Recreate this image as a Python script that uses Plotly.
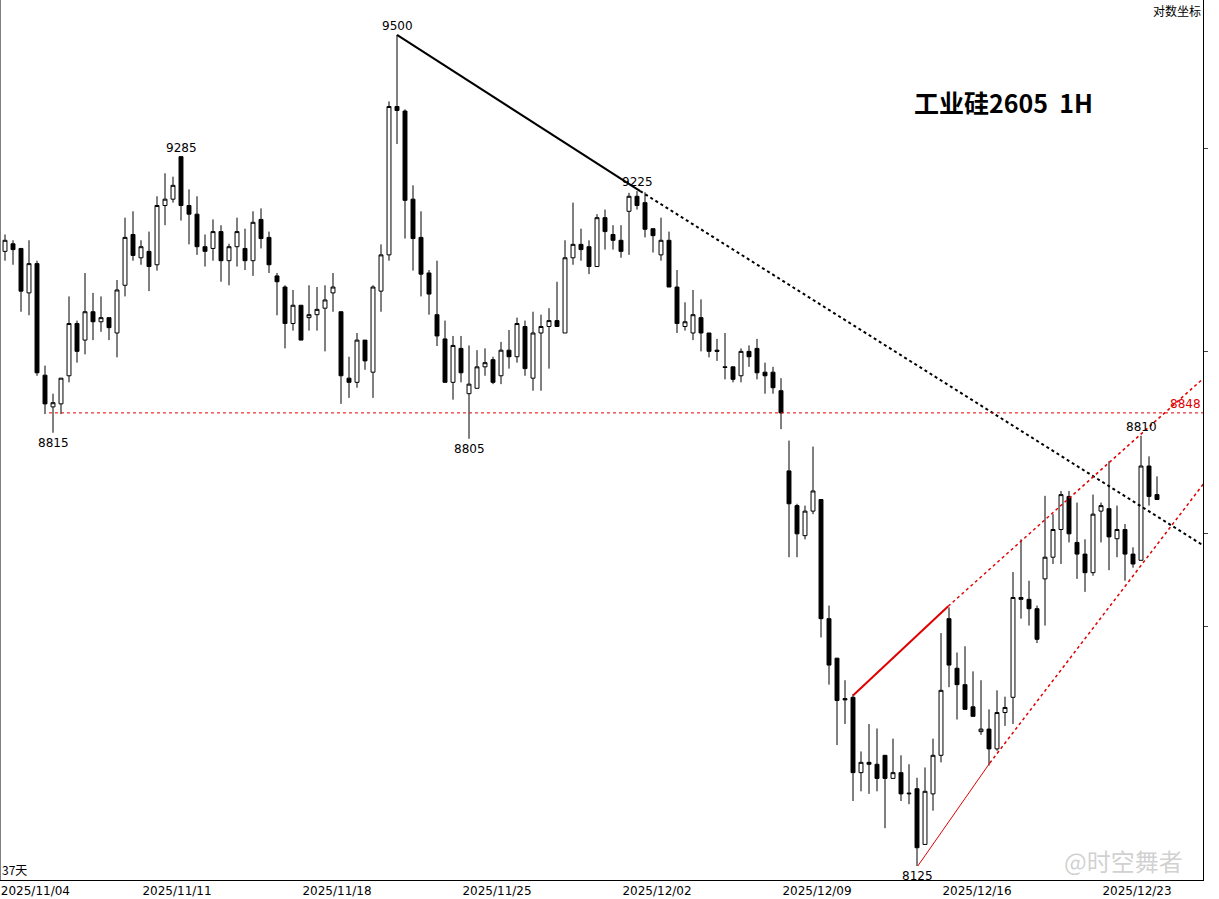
import math
import plotly.graph_objects as go

# OHLC per hourly bar (index 0..144)
opens = [9121,9134,9126,9050,9100,8911,8858,8863,8910,8998,8970,9018,9001,9008,8982,9063,9150,9110,9121,9098,
         9200,9211,9285,9200,9185,9129,9126,9155,9105,9129,9126,9105,9176,9145,9079,9060,8998,9029,9008,9013,
         9024,9050,9018,8906,8899,8970,8916,9053,9115,9373,9365,9211,9145,9084,9013,8972,8899,8956,8880,8889,
         8925,8937,8910,8953,8942,8993,8906,8982,8993,9003,8982,9110,9133,9129,9095,9179,9150,9140,9190,9216,
         9205,9160,9115,9140,9060,8993,8982,9008,8982,8953,8925,8925,8910,8951,8956,8916,8916,8885,8752,8695,
         8646,8686,8705,8512,8449,8385,8387,8269,8285,8282,8296,8260,8269,8236,8244,8158,8236,8296,8512,8433,
         8407,8372,8333,8337,8306,8363,8387,8546,8543,8528,8576,8611,8656,8710,8635,8616,8586,8686,8690,8641,
         8656,8616,8606,8760,8713]
highs = [9150,9140,9126,9140,9105,8927,8880,8906,9044,9003,9084,9050,9044,9008,9072,9179,9190,9140,9155,9216,
         9256,9250,9285,9228,9216,9150,9176,9166,9134,9179,9160,9190,9195,9155,9084,9063,9055,9029,9063,9060,
         9063,9084,9018,8942,8982,8970,9063,9133,9382,9500,9368,9235,9190,9089,9105,9003,8977,8977,8961,8953,
         8956,8942,8967,8987,9008,9003,9018,9013,9024,9069,9140,9205,9160,9140,9185,9193,9166,9166,9222,9225,
         9223,9160,9179,9155,9089,9034,9055,9039,8982,8972,8982,8925,8956,8961,8972,8932,8925,8906,8802,8698,
         8695,8792,8705,8533,8449,8414,8392,8302,8345,8338,8296,8322,8296,8282,8261,8277,8322,8489,8530,8458,
         8468,8428,8414,8368,8398,8388,8587,8640,8573,8533,8711,8681,8719,8719,8700,8640,8713,8700,8768,8695,
         8665,8627,8810,8776,8743]
lows = [9105,9098,9018,9012,8910,8846,8815,8846,8899,8932,8946,8970,8984,8970,8941,9044,9105,9098,9053,9088,
        9166,9205,9174,9133,9115,9095,9105,9069,9063,9095,9089,9079,9126,9084,9012,8956,8986,8970,8986,8986,
        8951,9018,8863,8873,8890,8920,8873,9018,9105,9307,9143,9088,9044,9013,8960,8899,8870,8899,8805,8889,
        8910,8896,8896,8922,8932,8910,8885,8885,8922,8993,8982,9098,9105,9082,9095,9124,9124,9110,9115,9193,
        9145,9119,9105,9060,8982,8986,8970,8951,8941,8935,8904,8899,8899,8925,8904,8880,8880,8821,8611,8611,
        8640,8681,8482,8407,8312,8345,8225,8240,8236,8240,8183,8260,8225,8220,8125,8158,8210,8285,8403,8352,
        8368,8357,8328,8280,8303,8342,8345,8512,8501,8473,8501,8600,8600,8635,8576,8555,8581,8635,8590,8611,
        8573,8594,8606,8695,8705]
closes = [9140,9124,9053,9100,8915,8863,8865,8906,8998,8951,9018,9001,9008,8991,9055,9145,9114,9129,9095,9200,
          9211,9235,9200,9185,9129,9121,9155,9105,9129,9155,9105,9171,9143,9098,9069,8998,9029,8970,9013,9022,
          9038,9060,8910,8899,8970,8935,9060,9115,9373,9366,9209,9143,9082,9048,8977,8899,8961,8915,8896,8925,
          8932,8899,8953,8942,8998,8922,8982,8993,9003,8993,9110,9133,9124,9095,9179,9155,9140,9121,9216,9200,
          9159,9148,9140,9060,8998,9001,9013,8982,8951,8951,8924,8904,8951,8942,8915,8910,8890,8848,8698,8649,
          8686,8719,8512,8438,8382,8383,8269,8285,8282,8260,8260,8269,8236,8237,8153,8240,8296,8398,8438,8407,
          8368,8357,8337,8306,8363,8371,8546,8543,8528,8479,8611,8656,8713,8649,8616,8586,8681,8695,8644,8656,
          8616,8600,8760,8710,8705]

date_labels = ["2025/11/04", "2025/11/11", "2025/11/18", "2025/11/25", "2025/12/02",
               "2025/12/09", "2025/12/16", "2025/12/23"]
date_pos = [3.8, 21.5, 41.5, 61.5, 81.5, 101.5, 121.5, 141.5]

# annotated extremes: (bar index, price, label, side)
marks = [(49, 9500, "9500", "top"), (22, 9285, "9285", "top"), (79, 9225, "9225", "top"),
         (6, 8815, "8815", "bottom"), (58, 8805, "8805", "bottom"), (114, 8125, "8125", "bottom"),
         (142, 8810, "8810", "top")]
support = 8848

# trend lines (bar index, price)
down_solid = [(49, 9500), (79.4, 9225)]
down_dot = [(79.4, 9225), (151.75, 8614)]
up_top_solid = [(106, 8390), (117.9, 8532)]
up_top_dot = [(117.9, 8532), (151.75, 8929)]
up_bot_solid = [(114.1, 8125), (123.1, 8284)]
up_bot_dot = [(123.1, 8284), (151.75, 8764)]

x = list(range(len(opens)))
fig = go.Figure(go.Candlestick(
    x=x, open=opens, high=highs, low=lows, close=closes,
    increasing=dict(line=dict(color="black", width=1), fillcolor="white"),
    decreasing=dict(line=dict(color="black", width=1), fillcolor="black"),
    whiskerwidth=0, showlegend=False, hoverinfo="skip"))

def seg(pts, color, dash, width):
    (x0, y0), (x1, y1) = pts
    fig.add_shape(type="line", x0=x0, y0=y0, x1=x1, y1=y1, xref="x", yref="y",
                  line=dict(color=color, dash=dash, width=width))

seg(down_solid, "black", "solid", 2)
seg(down_dot, "black", "dot", 2)
seg(up_top_solid, "#e00000", "solid", 2)
seg(up_top_dot, "#e00000", "dot", 1.5)
seg(up_bot_solid, "#e00000", "solid", 1)
seg(up_bot_dot, "#e00000", "dot", 1.5)
fig.add_shape(type="line", x0=5.5, x1=151.75, y0=support, y1=support, xref="x", yref="y",
              line=dict(color="#e00000", dash="dot", width=1))

for i, p, t, pos in marks:
    fig.add_annotation(x=i, y=math.log10(p), xref="x", yref="y", text=t, showarrow=False,
                       yanchor="bottom" if pos == "top" else "top", yshift=0 if pos == "top" else -1,
                       font=dict(size=12, color="black", family="DejaVu Sans"))
fig.add_annotation(x=1, xref="paper", y=math.log10(support), yref="y", text=str(support), showarrow=False,
                   xanchor="right", yanchor="bottom", font=dict(size=12, color="#e00000", family="DejaVu Sans"))

fig.add_annotation(x=0.834, y=0.884, xref="paper", yref="paper", text="<b>工业硅2605  1H</b>", showarrow=False,
                   xanchor="center", yanchor="middle",
                   font=dict(size=25, color="black", family="Noto Sans CJK SC"))
fig.add_annotation(x=1.0, y=1.0, xref="paper", yref="paper", text="对数坐标", showarrow=False,
                   xanchor="right", yanchor="top", font=dict(size=12, color="black", family="Noto Sans CJK SC"))
fig.add_annotation(x=0, y=0, xref="paper", yref="paper", text="37天", showarrow=False,
                   xanchor="left", yanchor="bottom", font=dict(size=12, color="black", family="Noto Sans CJK SC"))
fig.add_annotation(x=0.985, y=0.0, xref="paper", yref="paper", text="@时空舞者", showarrow=False,
                   xanchor="right", yanchor="bottom",
                   font=dict(size=24, color="rgba(150,150,150,0.45)", family="Noto Sans CJK SC"))

fig.update_xaxes(range=[-0.625, 149.75], rangeslider_visible=False, showgrid=False, zeroline=False,
                 tickvals=date_pos, ticktext=date_labels, ticks="", showline=True, linecolor="black",
                 tickfont=dict(size=12, color="black", family="DejaVu Sans"))
fig.update_yaxes(type="log", range=[3.90868, 3.98058], autorange=False, showgrid=False, zeroline=False,
                 side="right", showline=True, linecolor="black", showticklabels=False,
                 ticks="outside", ticklen=4, tickvals=[9300, 8950, 8650, 8500])
fig.add_shape(type="line", xref="paper", yref="paper", x0=0, x1=0, y0=0, y1=1, line=dict(color="black", width=1))

fig.update_layout(width=1219, height=899, margin=dict(l=0, r=16, t=0, b=19),
                  plot_bgcolor="white", paper_bgcolor="white")
fig.write_html("out.html", config={"displayModeBar": False},
               post_script="document.body.style.margin='0';document.body.style.overflow='hidden';")
